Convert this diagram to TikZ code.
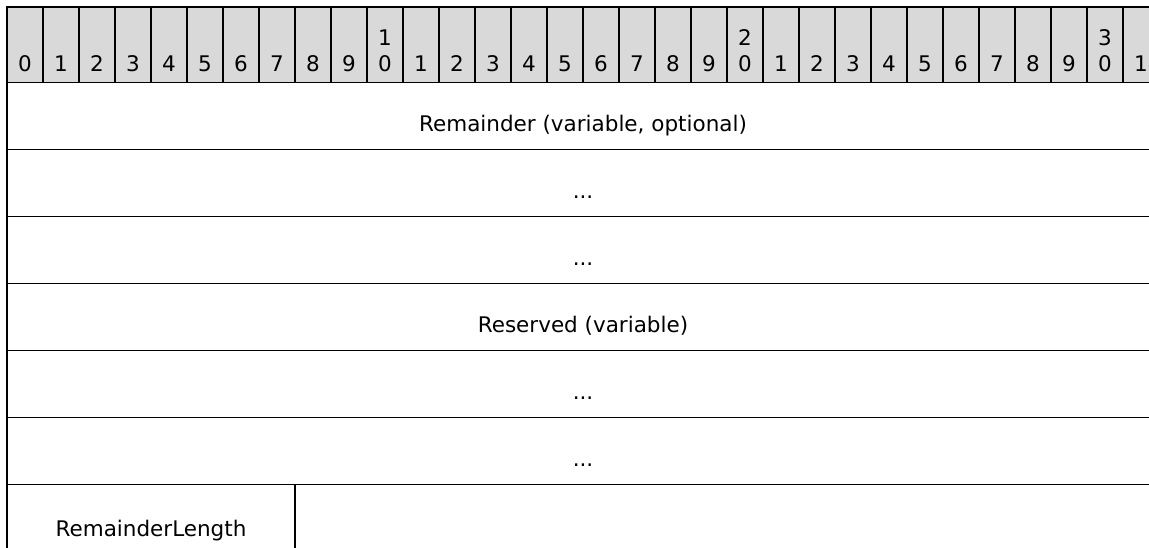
\documentclass[tikz,border=0pt]{standalone}
\usepackage{fontspec}
\setmainfont{DejaVu Sans}
\usepackage{tikz}
\usetikzlibrary{positioning}
\definecolor{hdrgray}{HTML}{D9D9D9}
\tikzstyle{bitcell} = [rectangle, draw, fill=hdrgray, line width=1.8pt,
    minimum width=36pt, minimum height=75.5pt, inner sep=0pt, outer sep=0pt]
\tikzstyle{bitnum} = [inner sep=0pt, anchor=south, text depth=0pt, align=center]
\tikzstyle{field} = [rectangle, draw, line width=1.8pt, minimum width=1152pt,
    minimum height=67pt, text height=32pt, text depth=0pt, inner sep=0pt, outer sep=0pt]

\begin{document}
\begin{tikzpicture}[x=1pt, y=1pt, font=\fontsize{21.5}{26}\selectfont]
    \useasboundingbox (0,0) rectangle (1149,548);
    \clip (0,0) rectangle (1149,548);
    % Header
    \node [bitcell] (b0) at (25,503.25) {};
    \foreach \i [count=\j from 0] in {1,...,31} {
        \node [bitcell, right=0pt of b\j] (b\i) {};
    }
    \foreach \i in {0,...,31} {
        \pgfmathtruncatemacro\ones{mod(\i,10)}
        \pgfmathtruncatemacro\tens{\i/10}
        \ifnum\ones=0 \ifnum\tens>0 \edef\bitlbl{\tens\noexpand\\0}\else\def\bitlbl{0}\fi
        \else\let\bitlbl\ones\fi
        \node [bitnum, above=10.5pt of b\i.south] (n\i) {\bitlbl};
    }
    % Rows
    \node [field, anchor=north west] (rem) at (b0.south west) {Remainder (variable, optional)};
    \node [field, below=0pt of rem] (rema) {...};
    \node [field, below=0pt of rema] (remb) {...};
    \node [field, below=0pt of remb] (res) {Reserved (variable)};
    \node [field, below=0pt of res] (resa) {...};
    \node [field, below=0pt of resa] (resb) {...};
    \node [field, minimum width=288pt, text height=37pt, anchor=north west] (rlen) at (resb.south west) {RemainderLength};
    \node [field, minimum width=864pt, right=0pt of rlen] (rest) {};
\end{tikzpicture}
\end{document}
